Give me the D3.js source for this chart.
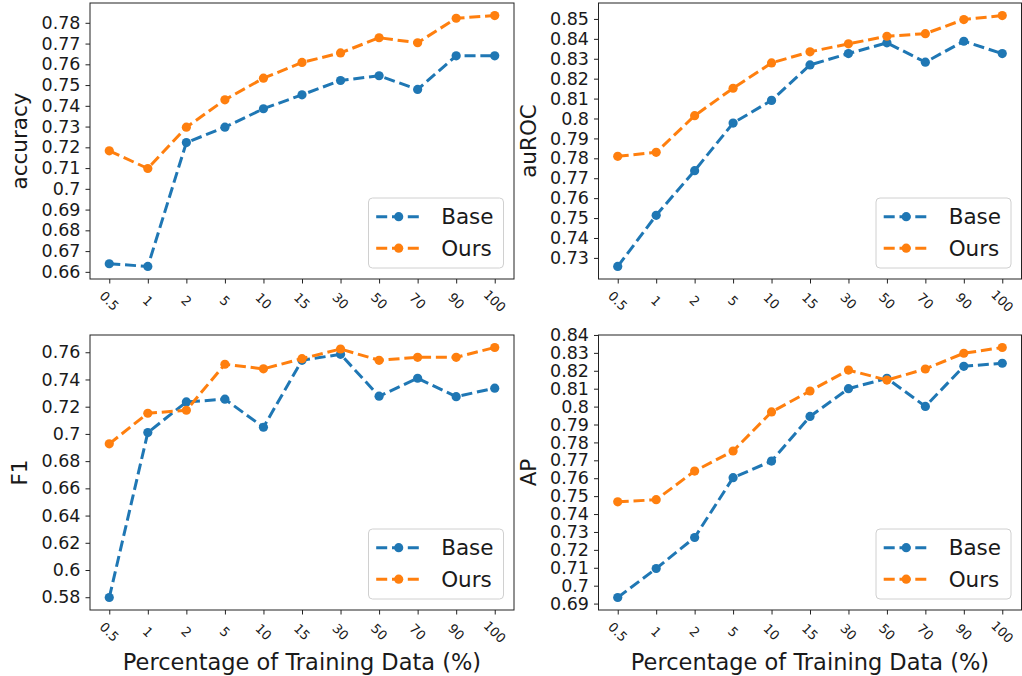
<!DOCTYPE html>
<html>
<head>
<meta charset="utf-8">
<script src="https://cdn.jsdelivr.net/npm/d3@7"></script>
<style>
  body { margin: 0; background: #fff; }
  svg { display: block; }
  text { font-family: "DejaVu Sans", sans-serif; fill: #1a1a1a; }
</style>
</head>
<body>
<svg id="chart" width="1022" height="676"></svg>
<script>
// Training-data fractions (%) shown on every x axis
const percentages = ["0.5", "1", "2", "5", "10", "15", "30", "50", "70", "90", "100"];
const seriesNames = ["Base", "Ours"];

// Accuracy
const accuracyBase = [0.6639, 0.6626, 0.7223, 0.7297, 0.7386, 0.7453, 0.7522, 0.7545, 0.7479, 0.7641, 0.7641];
const accuracyOurs = [0.7183, 0.7098, 0.7297, 0.7429, 0.7533, 0.7609, 0.7655, 0.7728, 0.7704, 0.7822, 0.7835];
const accuracyTicks = [0.66, 0.67, 0.68, 0.69, 0.70, 0.71, 0.72, 0.73, 0.74, 0.75, 0.76, 0.77, 0.78];

// auROC
const aurocBase = [0.7257, 0.7514, 0.7738, 0.7977, 0.8091, 0.8269, 0.8326, 0.8380, 0.8283, 0.8388, 0.8326];
const aurocOurs = [0.7810, 0.7830, 0.8014, 0.8152, 0.8279, 0.8335, 0.8375, 0.8413, 0.8426, 0.8497, 0.8517];
const aurocTicks = [0.73, 0.74, 0.75, 0.76, 0.77, 0.78, 0.79, 0.80, 0.81, 0.82, 0.83, 0.84, 0.85];

// F1
const f1Base = [0.5798, 0.7010, 0.7235, 0.7255, 0.7049, 0.7541, 0.7585, 0.7277, 0.7409, 0.7274, 0.7336];
const f1Ours = [0.6927, 0.7152, 0.7174, 0.7512, 0.7478, 0.7553, 0.7624, 0.7541, 0.7563, 0.7563, 0.7635];
const f1Ticks = [0.58, 0.60, 0.62, 0.64, 0.66, 0.68, 0.70, 0.72, 0.74, 0.76];

// Average precision
const apBase = [0.6934, 0.7096, 0.7269, 0.7603, 0.7696, 0.7945, 0.8100, 0.8158, 0.8001, 0.8225, 0.8242];
const apOurs = [0.7468, 0.7480, 0.7640, 0.7752, 0.7970, 0.8087, 0.8204, 0.8148, 0.8210, 0.8298, 0.8330];
const apTicks = [0.69, 0.70, 0.71, 0.72, 0.73, 0.74, 0.75, 0.76, 0.77, 0.78, 0.79, 0.80, 0.81, 0.82, 0.83, 0.84];

const colors = { Base: "#1f77b4", Ours: "#ff7f0e" };

// Subplot frames (pixel boxes of each axes)
const panels = [
  { ylabel: "accuracy", base: accuracyBase, ours: accuracyOurs, ticks: accuracyTicks, left: 90,    right: 514,    top: 3,   bottom: 279, xlabel: false },
  { ylabel: "auROC",    base: aurocBase,    ours: aurocOurs,    ticks: aurocTicks,    left: 598.5, right: 1021.5, top: 3,   bottom: 279, xlabel: false },
  { ylabel: "F1",       base: f1Base,       ours: f1Ours,       ticks: f1Ticks,       left: 90,    right: 514,    top: 335, bottom: 610, xlabel: true },
  { ylabel: "AP",       base: apBase,       ours: apOurs,       ticks: apTicks,       left: 598.5, right: 1021.5, top: 335, bottom: 610, xlabel: true }
];

const svg = d3.select("#chart");
svg.append("rect").attr("width", 1022).attr("height", 676).attr("fill", "#fff");

const fmt = d => String(+d.toFixed(2));

panels.forEach(p => {
  const g = svg.append("g");

  const x = d3.scalePoint().domain(percentages).range([p.left, p.right]).padding(0.5);

  // autoscale with 5% margin on each side
  const all = p.base.concat(p.ours);
  const lo = d3.min(all), hi = d3.max(all), pad = (hi - lo) * 0.05;
  const y = d3.scaleLinear().domain([lo - pad, hi + pad]).range([p.bottom, p.top]);

  // y axis
  const yAxis = d3.axisLeft(y).tickValues(p.ticks).tickFormat(fmt).tickSize(4.5).tickPadding(5);
  const ya = g.append("g").attr("transform", `translate(${p.left},0)`).call(yAxis);
  ya.select(".domain").remove();
  ya.selectAll(".tick line").attr("stroke", "#222").attr("stroke-width", 1);
  ya.selectAll(".tick text").attr("font-size", 17.5).attr("font-family", "DejaVu Sans").attr("fill", "#1a1a1a");

  // x axis
  const xAxis = d3.axisBottom(x).tickSize(4.5).tickFormat("");
  const xa = g.append("g").attr("transform", `translate(0,${p.bottom})`).call(xAxis);
  xa.select(".domain").remove();
  xa.selectAll(".tick line").attr("stroke", "#222").attr("stroke-width", 1);

  // rotated x tick labels
  g.append("g").selectAll("text").data(percentages).join("text")
    .attr("transform", d => `translate(${x(d)},${p.bottom + 22}) rotate(45)`)
    .attr("text-anchor", "middle")
    .attr("dominant-baseline", "central")
    .attr("font-size", 13)
    .text(d => d);

  // frame
  g.append("rect")
    .attr("x", p.left).attr("y", p.top)
    .attr("width", p.right - p.left).attr("height", p.bottom - p.top)
    .attr("fill", "none").attr("stroke", "#222").attr("stroke-width", 1);

  // series
  const line = d3.line().x((d, i) => x(percentages[i])).y(d => y(d));
  [["Base", p.base], ["Ours", p.ours]].forEach(([name, vals]) => {
    g.append("path").datum(vals)
      .attr("d", line)
      .attr("fill", "none")
      .attr("stroke", colors[name])
      .attr("stroke-width", 3)
      .attr("stroke-dasharray", "11,4.8");
    g.append("g").selectAll("circle").data(vals).join("circle")
      .attr("cx", (d, i) => x(percentages[i]))
      .attr("cy", d => y(d))
      .attr("r", 4.6)
      .attr("fill", colors[name]);
  });

  // y label
  g.append("text")
    .attr("transform", `translate(${p.left - 63},${(p.top + p.bottom) / 2}) rotate(-90)`)
    .attr("text-anchor", "middle")
    .attr("font-size", 21.5)
    .text(p.ylabel);

  // x label
  if (p.xlabel) {
    g.append("text")
      .attr("x", (p.left + p.right) / 2)
      .attr("y", 670)
      .attr("text-anchor", "middle")
      .attr("font-size", 22.5)
      .text("Percentage of Training Data (%)");
  }

  // legend
  const lw = 135, lh = 70;
  const lg = g.append("g").attr("transform", `translate(${p.right - 10.5 - lw},${p.bottom - 11 - lh})`);
  lg.append("rect").attr("width", lw).attr("height", lh).attr("rx", 4)
    .attr("fill", "#fff").attr("fill-opacity", 0.8)
    .attr("stroke", "#d0d0d0").attr("stroke-width", 1);
  seriesNames.forEach((name, i) => {
    const cy = 18.7 + i * 31.5;
    lg.append("line").attr("x1", 7.7).attr("x2", 52.7).attr("y1", cy).attr("y2", cy)
      .attr("stroke", colors[name]).attr("stroke-width", 3).attr("stroke-dasharray", "11,4.8");
    lg.append("circle").attr("cx", 30.2).attr("cy", cy).attr("r", 4.6).attr("fill", colors[name]);
    lg.append("text").attr("x", 72.7).attr("y", cy).attr("dy", "0.36em")
      .attr("font-size", 21.5).text(name);
  });
});
</script>
</body>
</html>
